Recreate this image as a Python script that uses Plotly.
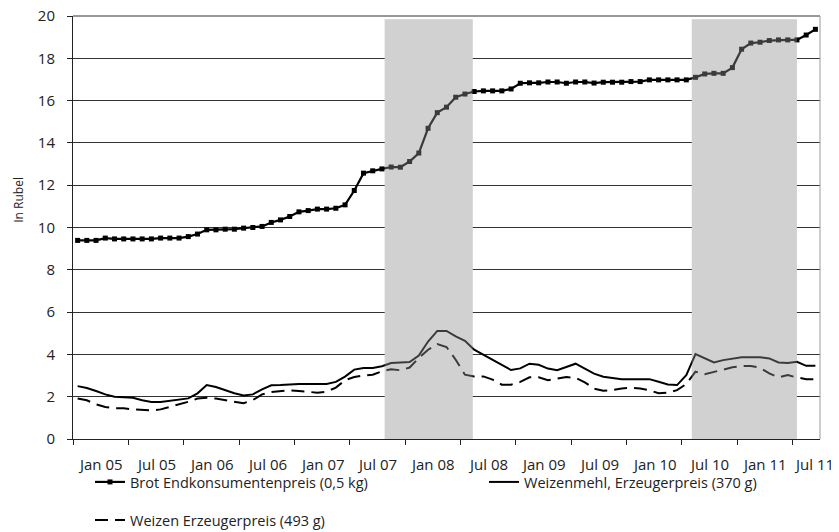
import plotly.graph_objects as go

# ---- data (monthly, Jan 2005 .. Sep 2011) ----
month_names = ["Jan", "Feb", "Mar", "Apr", "May", "Jun", "Jul", "Aug", "Sep", "Oct", "Nov", "Dec"]
months = [f"{month_names[i % 12]} {5 + i // 12:02d}" for i in range(81)]
x_idx = list(range(81))

brot = [9.39, 9.39, 9.39, 9.50, 9.46, 9.46, 9.46, 9.46, 9.46, 9.50,
        9.50, 9.50, 9.57, 9.69, 9.89, 9.89, 9.92, 9.92, 9.97, 10.00,
        10.05, 10.24, 10.36, 10.52, 10.74, 10.80, 10.87, 10.87, 10.91, 11.07,
        11.75, 12.57, 12.68, 12.77, 12.86, 12.85, 13.12, 13.52, 14.69, 15.43,
        15.69, 16.16, 16.31, 16.43, 16.46, 16.46, 16.46, 16.55, 16.82, 16.84,
        16.84, 16.88, 16.88, 16.82, 16.88, 16.88, 16.83, 16.87, 16.87, 16.87,
        16.90, 16.90, 16.98, 16.98, 16.98, 16.98, 16.98, 17.10, 17.26, 17.29,
        17.29, 17.56, 18.43, 18.72, 18.76, 18.84, 18.87, 18.87, 18.87, 19.10,
        19.37]

mehl = [2.50, 2.41, 2.27, 2.11, 2.00, 1.98, 1.95, 1.83, 1.75, 1.75,
        1.80, 1.84, 1.92, 2.16, 2.55, 2.46, 2.30, 2.16, 2.06, 2.11,
        2.35, 2.54, 2.55, 2.58, 2.60, 2.60, 2.60, 2.60, 2.70, 2.95,
        3.28, 3.36, 3.36, 3.44, 3.59, 3.62, 3.64, 3.95, 4.61, 5.11,
        5.11, 4.85, 4.64, 4.22, 3.98, 3.78, 3.51, 3.26, 3.34, 3.56,
        3.51, 3.33, 3.25, 3.40, 3.56, 3.33, 3.09, 2.94, 2.87, 2.83,
        2.83, 2.83, 2.83, 2.71, 2.58, 2.55, 3.02, 4.02, 3.81, 3.62,
        3.73, 3.81, 3.86, 3.86, 3.86, 3.81, 3.62, 3.59, 3.65, 3.46,
        3.46]

weizen = [1.91, 1.83, 1.64, 1.51, 1.45, 1.45, 1.40, 1.37, 1.35, 1.40,
          1.51, 1.64, 1.76, 1.91, 1.95, 1.91, 1.83, 1.75, 1.69, 1.84,
          2.11, 2.22, 2.27, 2.30, 2.27, 2.24, 2.19, 2.24, 2.43, 2.78,
          2.93, 3.00, 3.04, 3.20, 3.30, 3.25, 3.38, 3.83, 4.22, 4.49,
          4.35, 3.75, 3.04, 2.96, 2.96, 2.81, 2.57, 2.57, 2.70, 2.92,
          2.92, 2.78, 2.84, 2.93, 2.89, 2.68, 2.38, 2.28, 2.31, 2.39,
          2.43, 2.39, 2.31, 2.16, 2.19, 2.31, 2.60, 3.18, 3.06, 3.18,
          3.29, 3.39, 3.45, 3.45, 3.37, 3.10, 2.91, 3.02, 2.91, 2.83,
          2.83]

tick_labels = ["Jan 05", "Jul 05", "Jan 06", "Jul 06", "Jan 07", "Jul 07", "Jan 08",
               "Jul 08", "Jan 09", "Jul 09", "Jan 10", "Jul 10", "Jan 11", "Jul 11"]
label_pos = [2.5 + 6 * k for k in range(len(tick_labels))]      # centre of each half-year
label_pos[-1] = min(label_pos[-1], 79.9)                         # keep last label inside window
tick_bounds = [-0.5 + 6 * k for k in range(len(tick_labels))]   # half-year boundaries
y_ticks = list(range(0, 21, 2))

shade_periods = [(33.3, 42.85), (66.6, 78.0)]
shade_top = 19.85

series_names = ["Brot Endkonsumentenpreis (0,5 kg)",
                "Weizenmehl, Erzeugerpreis (370 g)",
                "Weizen Erzeugerpreis (493 g)"]

FONT = "Open Sans"
TXT = "#222222"
GRID = "#333333"

# the page body has an 8px margin, so the figure is a little smaller than the window
BODY = 8
W, H = 839 - BODY, 532 - BODY

fig = go.Figure()
fig.add_trace(go.Scatter(x=x_idx, y=brot, name=series_names[0], mode="lines+markers",
                         line=dict(color="#000000", width=2.2),
                         marker=dict(symbol="square", size=5, color="#000000"),
                         text=months, legend="legend", showlegend=True))
fig.add_trace(go.Scatter(x=x_idx, y=mehl, name=series_names[1], mode="lines",
                         line=dict(color="#000000", width=2),
                         text=months, legend="legend2", showlegend=True))
fig.add_trace(go.Scatter(x=x_idx, y=weizen, name=series_names[2], mode="lines",
                         line=dict(color="#000000", width=2, dash="13px,7px"),
                         text=months, legend="legend3", showlegend=True))

shapes = []
for a, b in shade_periods:
    shapes.append(dict(type="rect", xref="x", yref="y", x0=a, x1=b, y0=0, y1=shade_top,
                       fillcolor="#c9c9c9", line=dict(width=0), layer="between"))
    shapes.append(dict(type="rect", xref="x", yref="y", x0=a, x1=b, y0=0, y1=shade_top,
                       fillcolor="rgba(235,235,235,0.25)", line=dict(width=0), layer="above"))
# right frame line and top grid line (plotly drops grid lines on the plot edge)
shapes.append(dict(type="line", xref="paper", yref="paper", x0=1, x1=1, y0=0, y1=1,
                   line=dict(color="#9a9a9a", width=1)))
shapes.append(dict(type="line", xref="paper", yref="paper", x0=0, x1=1, y0=1, y1=1,
                   line=dict(color=GRID, width=1), layer="below"))

annotations = []
for lab, p in zip(tick_labels, label_pos):
    annotations.append(dict(text=lab, x=p, xref="x", y=0, yref="paper", yanchor="middle",
                            xanchor="center", yshift=-25, showarrow=False,
                            font=dict(family=FONT, size=15, color=TXT)))
annotations.append(dict(text="In Rubel", textangle=-90, x=-0.074, xref="paper",
                        y=0.565, yref="paper", showarrow=False, xanchor="center",
                        yanchor="middle", font=dict(family=FONT, size=12, color=TXT)))


def leg(xpx, ypx):
    # xpx, ypx given in window pixels
    return dict(orientation="h", xref="container", yref="container",
                x=(xpx - BODY) / W, y=1 - (ypx - BODY) / H, xanchor="left", yanchor="middle",
                bgcolor="rgba(0,0,0,0)", visible=True,
                font=dict(family=FONT, size=14.5, color=TXT))


fig.update_layout(
    width=W, height=H,
    margin=dict(l=73 - BODY, r=19, t=16 - BODY, b=93, autoexpand=False),
    paper_bgcolor="white", plot_bgcolor="white",
    font=dict(family=FONT, size=14, color=TXT),
    showlegend=True,
    shapes=shapes, annotations=annotations,
    xaxis=dict(range=[-0.5, 80.5], tickvals=tick_bounds, ticktext=[""] * len(tick_bounds),
               ticks="outside", ticklen=5, tickcolor=TXT, showline=True,
               linecolor=TXT, linewidth=1, showgrid=False, zeroline=False),
    yaxis=dict(range=[0, 20], tickvals=y_ticks, ticks="outside", ticklen=5,
               tickcolor=TXT, showline=True, linecolor=TXT, linewidth=1,
               showgrid=True, gridcolor=GRID, gridwidth=1, zeroline=False,
               ticklabelstandoff=9, ticklabeloverflow="allow",
               tickfont=dict(family=FONT, size=15, color=TXT)),
    legend=leg(90, 482),
    legend2=leg(484, 482),
    legend3=leg(90, 520),
)

fig.write_html("out.html")
